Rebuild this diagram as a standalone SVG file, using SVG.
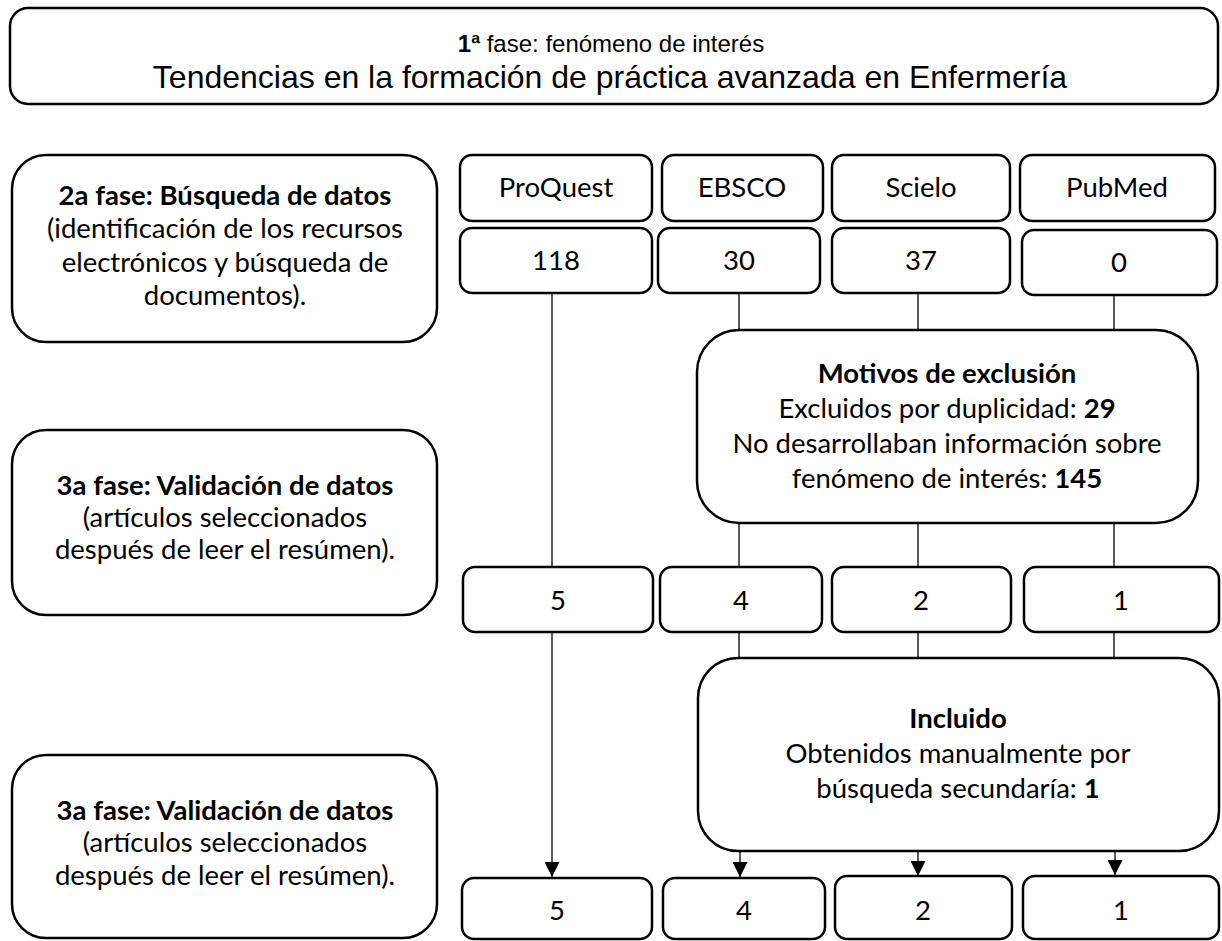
<svg xmlns="http://www.w3.org/2000/svg" width="1222" height="941" viewBox="0 0 1222 941">
<style>
.box{fill:#fff;stroke:#000;stroke-width:2.5}
.t{font-family:Lato,"Open Sans",sans-serif;font-size:27.5px;fill:#000;text-anchor:middle}
.b{font-weight:bold}
.ar{font-family:"Liberation Sans",Arial,sans-serif;fill:#000;text-anchor:middle}
.ln{stroke:#000;stroke-width:1.3;fill:none}
</style>
<defs>
<marker id="arr" viewBox="0 0 15 15" refX="15" refY="7.5" markerWidth="15" markerHeight="15" markerUnits="userSpaceOnUse" orient="auto">
<path d="M0,0 L15,7.5 L0,15 Z" fill="#000"/>
</marker>
</defs>
<rect width="1222" height="941" fill="#fff"/>
<g id="connectors">
<line class="ln" x1="552" y1="293" x2="552" y2="567"/>
<line class="ln" x1="552" y1="632" x2="552" y2="877" marker-end="url(#arr)"/>
<line class="ln" x1="739" y1="293" x2="739" y2="330"/>
<line class="ln" x1="918" y1="293" x2="918" y2="330"/>
<line class="ln" x1="1114" y1="295" x2="1114" y2="330"/>
<line class="ln" x1="739" y1="523" x2="739" y2="567"/>
<line class="ln" x1="918" y1="523" x2="918" y2="567"/>
<line class="ln" x1="1114" y1="523" x2="1114" y2="567"/>
<line class="ln" x1="739" y1="632" x2="739" y2="658"/>
<line class="ln" x1="918" y1="632" x2="918" y2="658"/>
<line class="ln" x1="1114" y1="632" x2="1114" y2="658"/>
<line class="ln" x1="740" y1="851" x2="740" y2="877" marker-end="url(#arr)"/>
<line class="ln" x1="918" y1="851" x2="918" y2="876" marker-end="url(#arr)"/>
<line class="ln" x1="1115" y1="851" x2="1115" y2="875" marker-end="url(#arr)"/>
</g>
<g id="fase1">
<rect class="box" x="10" y="8" width="1208" height="96" rx="18"/>
<text class="ar" x="611" y="52" font-size="24"><tspan font-weight="bold">1ª</tspan> fase: fenómeno de interés</text>
<text class="ar" x="610" y="88" font-size="32">Tendencias en la formación de práctica avanzada en Enfermería</text>
</g>
<g id="fase2">
<rect class="box" x="12" y="155" width="425" height="187" rx="34"/>
<text class="t b" x="225" y="205">2a fase: Búsqueda de datos</text>
<text class="t" x="225" y="238">(identificación de los recursos</text>
<text class="t" x="225" y="272">electrónicos y búsqueda de</text>
<text class="t" x="225" y="305">documentos).</text>
</g>
<g id="fase3a">
<rect class="box" x="12" y="430" width="425" height="185" rx="34"/>
<text class="t b" x="225" y="495">3a fase: Validación de datos</text>
<text class="t" x="225" y="527">(artículos seleccionados</text>
<text class="t" x="225" y="559">después de leer el resúmen).</text>
</g>
<g id="fase3b">
<rect class="box" x="12" y="755" width="425" height="183" rx="34"/>
<text class="t b" x="225" y="820">3a fase: Validación de datos</text>
<text class="t" x="225" y="852">(artículos seleccionados</text>
<text class="t" x="225" y="885">después de leer el resúmen).</text>
</g>
<g id="proquest"><rect class="box" x="460" y="155" width="192" height="66" rx="12"/><text class="t" x="556" y="197">ProQuest</text></g>
<g id="ebsco"><rect class="box" x="662" y="155" width="161" height="66" rx="12"/><text class="t" x="742" y="197">EBSCO</text></g>
<g id="scielo"><rect class="box" x="832" y="155" width="178" height="66" rx="12"/><text class="t" x="921" y="197">Scielo</text></g>
<g id="pubmed"><rect class="box" x="1020" y="155" width="195" height="66" rx="12"/><text class="t" x="1117" y="197">PubMed</text></g>
<g id="n118"><rect class="box" x="460" y="228" width="192" height="65" rx="12"/><text class="t" x="556" y="270">118</text></g>
<g id="n30"><rect class="box" x="658" y="228" width="162" height="65" rx="12"/><text class="t" x="739" y="270">30</text></g>
<g id="n37"><rect class="box" x="832" y="228" width="178" height="65" rx="12"/><text class="t" x="921" y="270">37</text></g>
<g id="n0"><rect class="box" x="1022" y="230" width="195" height="65" rx="12"/><text class="t" x="1119" y="272">0</text></g>
<g id="exclusion">
<rect class="box" x="697" y="330" width="501" height="193" rx="42"/>
<text class="t b" x="947" y="383">Motivos de exclusión</text>
<text class="t" x="947" y="418">Excluidos por duplicidad: <tspan class="b">29</tspan></text>
<text class="t" x="947" y="453">No desarrollaban información sobre</text>
<text class="t" x="947" y="488">fenómeno de interés: <tspan class="b">145</tspan></text>
</g>
<g id="s5"><rect class="box" x="463" y="567" width="190" height="65" rx="12"/><text class="t" x="558" y="610">5</text></g>
<g id="s4"><rect class="box" x="660" y="567" width="162" height="65" rx="12"/><text class="t" x="741" y="610">4</text></g>
<g id="s2"><rect class="box" x="832" y="567" width="179" height="65" rx="12"/><text class="t" x="921" y="610">2</text></g>
<g id="s1"><rect class="box" x="1024" y="567" width="195" height="65" rx="12"/><text class="t" x="1121" y="610">1</text></g>
<g id="incluido">
<rect class="box" x="698" y="658" width="521" height="193" rx="40"/>
<text class="t b" x="958" y="728">Incluido</text>
<text class="t" x="958" y="763">Obtenidos manualmente por</text>
<text class="t" x="958" y="798">búsqueda secundaría: <tspan class="b">1</tspan></text>
</g>
<g id="f5"><rect class="box" x="462" y="878" width="190" height="61" rx="12"/><text class="t" x="557" y="920">5</text></g>
<g id="f4"><rect class="box" x="663" y="878" width="162" height="61" rx="12"/><text class="t" x="744" y="920">4</text></g>
<g id="f2"><rect class="box" x="835" y="876" width="177" height="63" rx="12"/><text class="t" x="923" y="920">2</text></g>
<g id="f1"><rect class="box" x="1023" y="876" width="196" height="63" rx="12"/><text class="t" x="1121" y="920">1</text></g>
</svg>
